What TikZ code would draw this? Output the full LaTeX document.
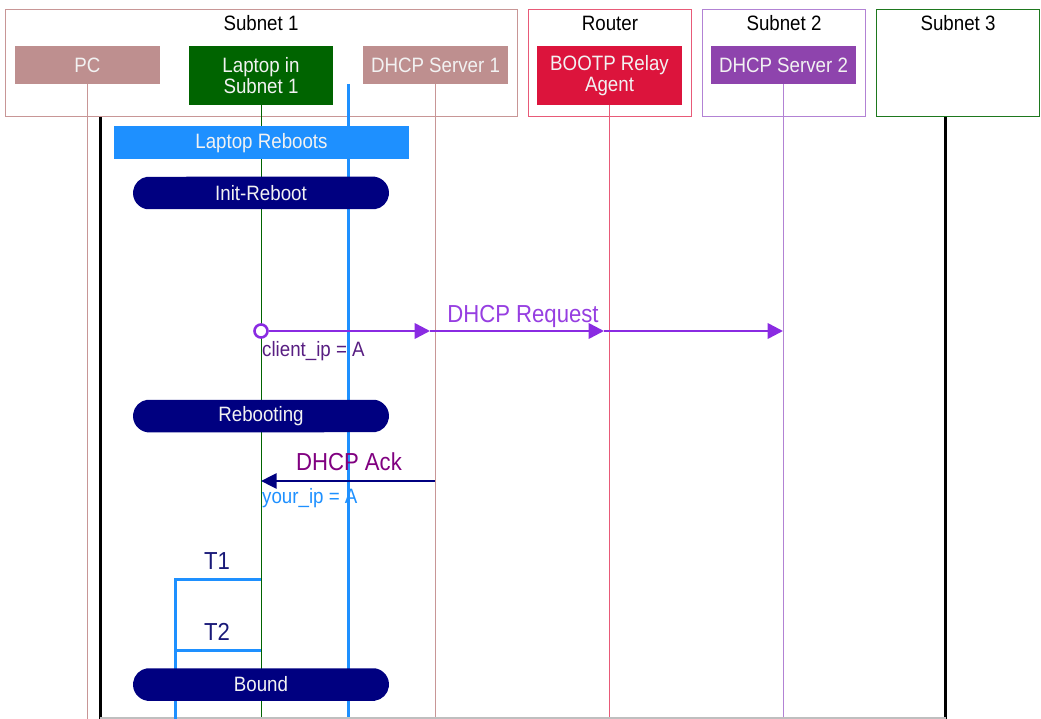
\documentclass[tikz,border=0pt]{standalone}
\usepackage{fontspec}
\setmainfont{Liberation Sans}[FakeStretch=0.9]
\usetikzlibrary{arrows.meta,shapes.misc}

\definecolor{rosy}{RGB}{190,143,143}
\definecolor{rosyline}{RGB}{200,150,150}
\definecolor{crim}{RGB}{220,20,60}
\definecolor{crimline}{RGB}{232,90,120}
\definecolor{orchidbox}{RGB}{142,68,173}
\definecolor{orchidline}{RGB}{178,130,212}
\definecolor{leafgreen}{RGB}{0,100,0}
\definecolor{framegreen}{RGB}{30,120,30}
\definecolor{navyblue}{RGB}{0,0,128}
\definecolor{dodger}{RGB}{30,144,255}
\definecolor{violetmsg}{RGB}{138,43,226}
\definecolor{violetlabel}{RGB}{150,62,225}
\definecolor{plumtext}{RGB}{88,30,130}
\definecolor{ackpurple}{RGB}{128,0,128}
\definecolor{timerblue}{RGB}{25,25,120}
\definecolor{boxtext}{RGB}{242,242,242}

\newcommand{\normalsz}{\fontsize{20.8}{21}\selectfont}
\newcommand{\bigsz}{\fontsize{24.6}{26}\selectfont}

\tikzset{
  group/.style={draw=#1, line width=1.4pt, anchor=north west, inner sep=0pt},
  grouptitle/.style={anchor=base, inner sep=0pt, font=\normalsz, text=black},
  actor/.style={fill=#1, inner sep=0pt, align=center, font=\normalsz, text=boxtext},
  lifeline/.style={draw=#1, line width=0.9pt},
  blueline/.style={draw=dodger, line width=3pt},
  frameline/.style={draw=black, line width=3pt},
  statebox/.style={rounded rectangle, rounded rectangle arc length=165,
    fill=navyblue, minimum width=256pt,
    minimum height=32.5pt, inner sep=0pt, font=\normalsz, text=boxtext},
  msg/.style={draw=violetmsg, line width=2.6pt,
    -{Triangle[length=15.5pt,width=15.5pt]}},
  ackmsg/.style={draw=navyblue, line width=2.6pt,
    -{Triangle[length=15.5pt,width=15pt]}},
  timer/.style={draw=dodger, line width=3pt},
  biglabel/.style={anchor=base, inner sep=0pt, font=\bigsz, text=#1},
  smalllabel/.style={anchor=base west, inner sep=0pt, font=\normalsz, text=#1},
}

\begin{document}
\begin{tikzpicture}[x=1pt,y=-1pt]
\useasboundingbox (0,0) rectangle (1041,719);

% reference points
\coordinate (bottom) at (0,719);
\coordinate (frameL) at (100,117);
\coordinate (frameR) at (945.5,117);
\coordinate (baseL) at (100,718);
\coordinate (baseR) at (945.5,718);
\coordinate (bluetop) at (348,84);

% group frames
\node[group=rosyline, minimum width=512pt, minimum height=107pt] (subnet1) at (5,9) {};
\node[group=crimline, minimum width=163pt, minimum height=107pt] (router) at (528,9) {};
\node[group=orchidline, minimum width=163pt, minimum height=107pt] (subnet2) at (702,9) {};
\node[group=framegreen, minimum width=163pt, minimum height=107pt] (subnet3) at (876,9) {};

\node[grouptitle] (subnet1title) at (261,31) {Subnet 1};
\node[grouptitle] (routertitle) at (610,31) {Router};
\node[grouptitle] (subnet2title) at (784,31) {Subnet 2};
\node[grouptitle] (subnet3title) at (958,31) {Subnet 3};

% participants
\node[actor=rosy, minimum width=145pt, minimum height=38pt] (pc) at (87.5,65) {PC};
\node[actor=leafgreen, minimum width=144pt, minimum height=59pt] (laptop) at (261,75.5) {Laptop in\\Subnet 1};
\node[actor=rosy, minimum width=145pt, minimum height=38pt] (dhcp1) at (435.5,65) {DHCP Server 1};
\node[actor=crim, minimum width=145pt, minimum height=59pt] (relay) at (609.5,75.5) {BOOTP Relay\\Agent};
\node[actor=orchidbox, minimum width=145pt, minimum height=38pt] (dhcp2) at (783.5,65) {DHCP Server 2};

% outer frame and lifelines
\draw[lifeline=rosyline] (pc.south) -- (pc.south |- bottom);
\draw[lifeline=leafgreen] (laptop.south) -- (laptop.south |- bottom);
\draw[lifeline=rosyline] (dhcp1.south) -- (dhcp1.south |- bottom);
\draw[lifeline=crimline] (relay.south) -- (relay.south |- bottom);
\draw[lifeline=orchidline] (dhcp2.south) -- (dhcp2.south |- bottom);
\draw[blueline] (bluetop) -- (bluetop |- bottom);
\draw[frameline] (frameL) -- (frameL |- bottom);
\draw[frameline] (frameR) -- (frameR |- bottom);
\draw[draw=black!25, line width=1.5pt] (baseL) -- (baseR);

% lease timers
\coordinate (t1end) at (261,579);
\coordinate (t1start) at (175,579);
\coordinate (t2start) at (175,650);
\coordinate (t2end) at (261,650);
\draw[timer] (t1end) -- (t1start) -- (t1start |- bottom);
\draw[timer] (t2start) -- (t2end);
\node[biglabel=timerblue] (t1label) at (217,569) {T1};
\node[biglabel=timerblue] (t2label) at (217,640) {T2};

% event and states
\node[fill=dodger, minimum width=295pt, minimum height=33pt, inner sep=0pt,
  font=\normalsz, text=boxtext] (reboots) at (261.5,143) {Laptop Reboots};
\node[statebox] (initreboot) at (261,193) {Init-Reboot};
\node[statebox] (rebooting) at (261,416) {Rebooting};
\node[statebox] (bound) at (261,684.5) {Bound};

% DHCP Request broadcast through the relay
\node[circle, draw=violetmsg, line width=2.6pt, fill=white, minimum size=13pt,
  inner sep=0pt] (reqstart) at (261,331) {};
\coordinate (reqA) at (430,331);
\coordinate (reqB) at (604,331);
\coordinate (reqC) at (783,331);
\draw[msg] (reqstart.east) -- (reqA);
\draw[msg] (reqA) -- (reqB);
\draw[msg] (reqB) -- (reqC);
\node[biglabel=violetlabel] (reqlabel) at (523,322) {DHCP Request};
\node[smalllabel=plumtext] (clientip) at (262,356) {client\_ip = A};

% DHCP Ack back to the laptop
\coordinate (ackstart) at (435,481);
\coordinate (ackend) at (261,481);
\draw[ackmsg] (ackstart) -- (ackend);
\node[biglabel=ackpurple] (acklabel) at (349,470) {DHCP Ack};
\node[smalllabel=dodger] (yourip) at (262,503) {your\_ip = A};
\end{tikzpicture}
\end{document}
